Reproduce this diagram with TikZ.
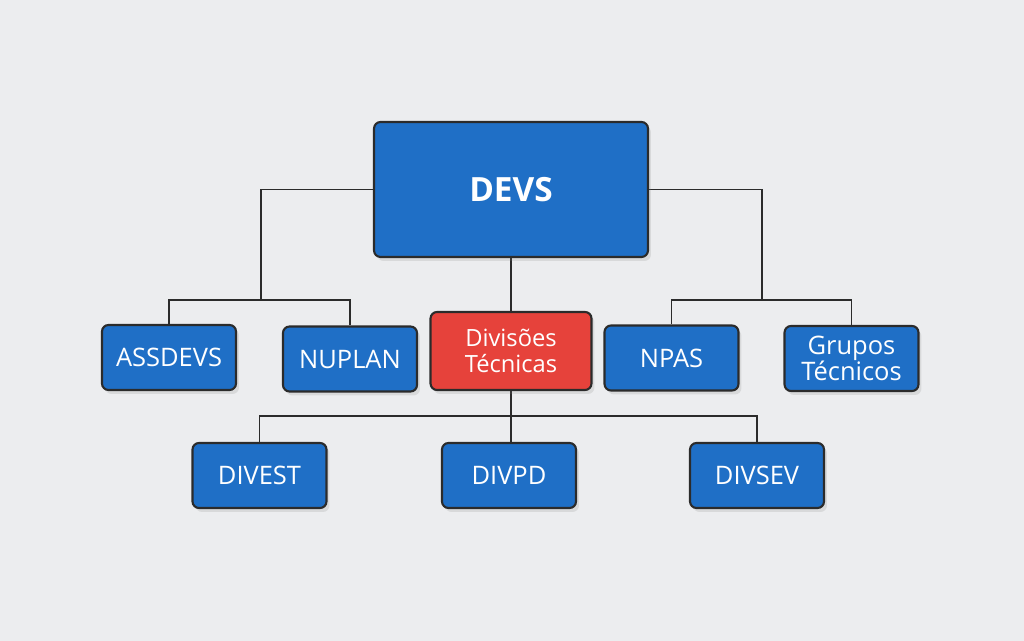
\documentclass[tikz,border=0pt]{standalone}
\usepackage{fontspec}
\setmainfont{Open Sans}
\usetikzlibrary{shadows,backgrounds}
\definecolor{bgcol}{HTML}{ECEDEF}
\definecolor{boxblue}{HTML}{1F6FC6}
\definecolor{boxred}{HTML}{E6423B}
\definecolor{edgecol}{HTML}{2B2B2B}

\begin{document}
\begin{tikzpicture}[x=0.02cm,y=-0.02cm]
    % `unit' is used for every blue box, `divisions' for the red one.
    % `link' is used for the connecting lines.
    \tikzstyle{unit} = [draw=edgecol,line width=1.2pt,fill=boxblue,rounded corners=1.3mm,
      text=white,font=\fontsize{14.5}{15}\selectfont,align=center,
      minimum width=2.68cm,minimum height=1.3cm,inner sep=1pt,
      drop shadow={opacity=0.18,shadow xshift=0.6mm,shadow yshift=-0.8mm}]
    \tikzstyle{top} = [unit,minimum width=5.48cm,minimum height=2.7cm,
      font=\fontsize{19}{21}\selectfont\bfseries]
    \tikzstyle{divisions} = [unit,fill=boxred,minimum width=3.22cm,minimum height=1.56cm,
      font=\fontsize{13.5}{14.5}\selectfont]
    \tikzstyle{link} = [draw=edgecol,line width=1.1pt]
    %
    \useasboundingbox (0,0) rectangle (1024,641);
    %
    \node[top] (devs) at (511,189.5) {DEVS};
    \node[unit] (ass) at (169,357.5) {ASSDEVS};
    \node[unit] (nup) at (350,359) {NUPLAN};
    \node[divisions] (div) at (511,351) {Divisões\\Técnicas};
    \node[unit] (npas) at (671.5,358) {NPAS};
    \node[unit] (grp) at (851.5,358.5) {Grupos\\Técnicos};
    \node[unit] (divest) at (259.5,475.5) {DIVEST};
    \node[unit] (divpd) at (509,475.5) {DIVPD};
    \node[unit] (divsev) at (757,475.5) {DIVSEV};
    %
    \coordinate (jl) at (261,300);
    \coordinate (jr) at (762,300);
    \coordinate (jb) at (511,416);
    %
    \begin{pgfonlayer}{background}
        % Draw background and lines.
        \fill[bgcol] (0,0) rectangle (1024,641);
        \draw[link] (devs.west) -| (jl);
        \draw[link] (ass.north) |- (jl) -| (nup.north);
        \draw[link] (devs.east) -| (jr);
        \draw[link] (npas.north) |- (jr) -| (grp.north);
        \draw[link] (devs.south) -- (div.north);
        \draw[link] (div.south) -- (jb);
        \draw[link] (divest.north) |- (jb) -| (divsev.north);
        \draw[link] (jb) -- (jb |- divpd.north);
    \end{pgfonlayer}
\end{tikzpicture}
\end{document}
